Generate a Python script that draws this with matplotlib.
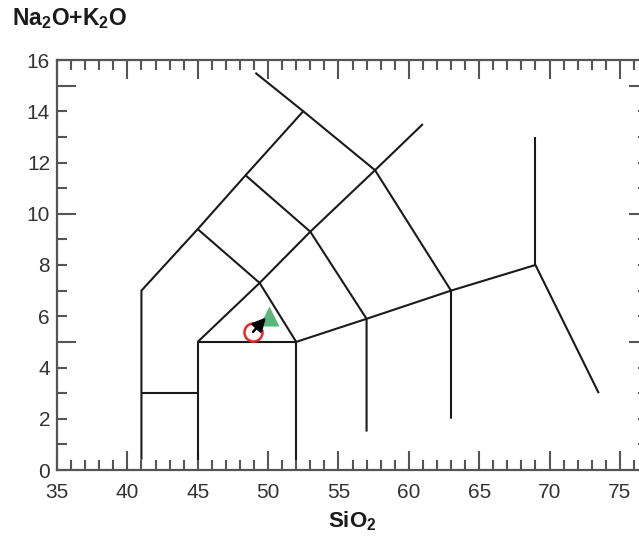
import matplotlib
matplotlib.use('Agg')
import matplotlib.pyplot as plt
from matplotlib.ticker import MultipleLocator, FixedLocator, FuncFormatter

plt.rcParams['font.family'] = ['Liberation Sans', 'DejaVu Sans']
plt.rcParams['mathtext.fontset'] = 'custom'
plt.rcParams['mathtext.rm'] = 'Liberation Sans'
plt.rcParams['mathtext.bf'] = 'Liberation Sans:bold'

# TAS field boundaries (SiO2, Na2O+K2O)
line_outer_x = [41, 41, 45, 48.4, 52.5, 49.1]
line_outer_y = [0.4, 7, 9.4, 11.5, 14, 15.5]
line_top_x = [52.5, 57.6, 63, 63]
line_top_y = [14, 11.7, 7, 2]
line_low3_x = [41, 45]
line_low3_y = [3, 3]
line_b45_x = [45, 45, 52, 52]
line_b45_y = [0.4, 5, 5, 0.4]
line_diag1_x = [45, 49.4, 53, 57.6, 61]
line_diag1_y = [5, 7.3, 9.3, 11.7, 13.5]
line_diag2_x = [45, 49.4, 52]
line_diag2_y = [9.4, 7.3, 5]
line_diag3_x = [48.4, 53, 57, 57]
line_diag3_y = [11.5, 9.3, 5.9, 1.5]
line_base_x = [52, 57, 63, 69, 73.5]
line_base_y = [5, 5.9, 7, 8, 3]
line_v69_x = [69, 69]
line_v69_y = [8, 13]

boundaries = [
    (line_outer_x, line_outer_y), (line_top_x, line_top_y),
    (line_low3_x, line_low3_y), (line_b45_x, line_b45_y),
    (line_diag1_x, line_diag1_y), (line_diag2_x, line_diag2_y),
    (line_diag3_x, line_diag3_y), (line_base_x, line_base_y),
    (line_v69_x, line_v69_y),
]

# samples
circle_x, circle_y = 48.93, 5.39
tri_x, tri_y = 50.1, 6.0
arrow_tip = (49.85, 5.95)

fig = plt.figure(figsize=(6.39, 5.44), dpi=100)
ax = fig.add_axes([57/639, 74/544, 591/639, 410/544])

for xs, ys in boundaries:
    ax.plot(xs, ys, color='#1a1a1a', lw=1.5, solid_capstyle='butt', zorder=2)

ax.plot(tri_x, tri_y, marker='^', ms=15, color='#5bb57c', mec='none', zorder=3)
ax.plot(circle_x, circle_y, marker='o', ms=13, mfc='none', mec='#e8262b', mew=1.8, zorder=4)
ax.annotate('', xy=arrow_tip, xytext=(circle_x, circle_y),
            arrowprops=dict(arrowstyle='-|>', color='black', lw=1.8,
                            mutation_scale=20, shrinkA=0, shrinkB=0), zorder=5)

ax.set_xlim(35, 77)
ax.set_ylim(0, 16)

ax.xaxis.set_major_locator(MultipleLocator(5))
ax.xaxis.set_minor_locator(MultipleLocator(1))
ax.yaxis.set_major_locator(FixedLocator([5, 10, 15]))
ax.yaxis.set_minor_locator(MultipleLocator(1))
ax.yaxis.set_major_formatter(FuncFormatter(lambda v, p: '10' if v == 10 else ''))
ax.yaxis.set_minor_formatter(FuncFormatter(lambda v, p: f'{v:.0f}' if round(v) % 2 == 0 else ''))

ax.tick_params(which='both', direction='in', top=True, right=True, color='#555555',
               width=1.5, labelcolor='#333333', labelsize=15)
ax.tick_params(which='major', length=14)
ax.tick_params(which='minor', length=7)
ax.tick_params(axis='x', which='both', pad=9)
ax.tick_params(axis='y', which='both', pad=5)

for s in ax.spines.values():
    s.set_color('#555555')
    s.set_linewidth(1.6)

ax.set_xlabel(r'SiO$_\mathbf{2}$', fontsize=16, fontweight='bold', color='#1a1a1a', labelpad=6)
fig.text(12/639, 1 - 19/544, r'Na$_\mathbf{2}$O+K$_\mathbf{2}$O', fontsize=16.5,
         fontweight='bold', color='#1a1a1a', ha='left', va='center')

fig.savefig('out.png', dpi=100)
